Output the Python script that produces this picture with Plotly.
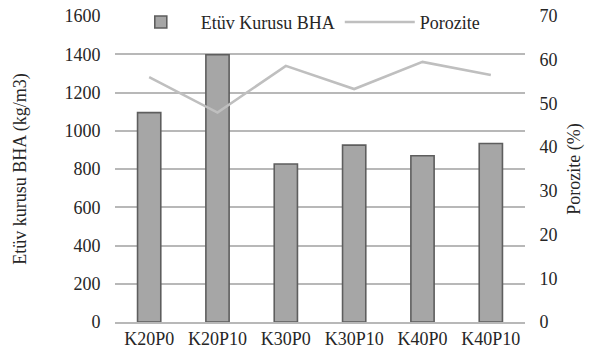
import plotly.graph_objects as go

# Sample codes and measured values
categories = ["K20P0", "K20P10", "K30P0", "K30P10", "K40P0", "K40P10"]
bha_values = [1095, 1397, 826, 925, 869, 933]          # kg/m3
porosity_values = [56.0, 47.9, 58.6, 53.3, 59.5, 56.5]  # %

left_ticks = [0, 200, 400, 600, 800, 1000, 1200, 1400, 1600]
right_ticks = [0, 10, 20, 30, 40, 50, 60, 70]

FONT = "Liberation Serif"
TXT = "#262626"
GRID = "#b8b8b8"
CLEAR = "rgba(0,0,0,0)"
PAD = "\u00a0\u00a0\u00a0"  # gap between tick labels and the plot area

fig = go.Figure()

fig.add_trace(go.Bar(
    x=categories, y=bha_values, name="Etüv Kurusu BHA",
    marker=dict(color="#a6a6a6", line=dict(color="#5e5e5e", width=1.6)),
    yaxis="y",
))

fig.add_trace(go.Scatter(
    x=categories, y=porosity_values, name="Porozite",
    mode="lines", line=dict(color="#bfbfbf", width=2.6),
    yaxis="y2",
))

fig.update_layout(
    width=591, height=356,
    margin=dict(l=115, r=66, t=16, b=34, autoexpand=False),
    paper_bgcolor="white", plot_bgcolor="white",
    font=dict(family=FONT, size=18, color=TXT),
    bargap=0.66,
    showlegend=True,
    legend=dict(
        orientation="h", x=0.458, xanchor="center", y=1.04, yanchor="top",
        bgcolor=CLEAR, font=dict(family=FONT, size=18, color=TXT),
        itemwidth=70, tracegroupgap=0,
    ),
    xaxis=dict(
        showgrid=False, showline=True, linecolor=GRID, linewidth=1.5,
        automargin=False,
        tickfont=dict(family=FONT, size=18, color=TXT),
    ),
    yaxis=dict(
        range=[0, 1600], tickvals=left_ticks,
        ticktext=[f"{v}{PAD}" for v in left_ticks],
        showgrid=True, gridcolor=GRID, gridwidth=1.5, zeroline=False,
        automargin=False,
        tickfont=dict(family=FONT, size=18, color=TXT),
        title=dict(text="Etüv kurusu BHA (kg/m3)", standoff=33,
                   font=dict(family=FONT, size=18, color=TXT)),
    ),
    yaxis2=dict(
        range=[0, 70], tickvals=right_ticks,
        ticktext=[f"{PAD}{v}" for v in right_ticks],
        overlaying="y", side="right",
        showgrid=False, zeroline=False, automargin=False,
        tickfont=dict(family=FONT, size=18, color=TXT),
        title=dict(text="Porozite (%)", standoff=10,
                   font=dict(family=FONT, size=18, color=TXT)),
    ),
)

fig.write_html("out.html")
